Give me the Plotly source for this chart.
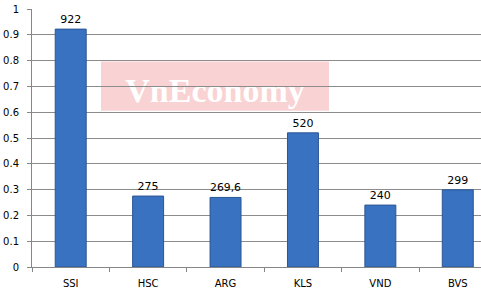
import plotly.graph_objects as go

categories = ["SSI", "HSC", "ARG", "KLS", "VND", "BVS"]
values = [0.922, 0.275, 0.2696, 0.520, 0.240, 0.299]
labels = ["922", "275", "269,6", "520", "240", "299"]
y_ticks = [0, 0.1, 0.2, 0.3, 0.4, 0.5, 0.6, 0.7, 0.8, 0.9, 1]
y_ticktext = ["0", "0.1", "0.2", "0.3", "0.4", "0.5", "0.6", "0.7", "0.8", "0.9", "1"]

fig = go.Figure()
fig.add_trace(go.Bar(
    x=categories, y=values, text=labels, textposition="outside",
    textfont=dict(family="DejaVu Sans", size=11, color="#000000"),
    marker=dict(color="#3a72c2", line=dict(color="#2a5694", width=1)),
    cliponaxis=False, width=0.4,
))

fig.add_shape(
    type="rect", xref="paper", yref="paper",
    x0=(101 - 32) / 449, x1=(329 - 32) / 449,
    y0=(267 - 111) / 257.5, y1=(267 - 62) / 257.5,
    fillcolor="#f9d2d4", line=dict(width=0), layer="below",
    label=dict(text="<b>VnEconomy</b>",
               font=dict(family="Liberation Serif", size=34, color="#ffffff"),
               textposition="middle center"),
)

fig.update_layout(
    width=481, height=292,
    margin=dict(l=32, r=0, t=9, b=25),
    paper_bgcolor="white", plot_bgcolor="white",
    showlegend=False,
    xaxis=dict(
        range=[-0.5, 5.3], showgrid=False, showline=True, linecolor="#868686",
        ticks="outside", ticklen=4, tickcolor="#868686", tickson="boundaries",
        ticklabelstandoff=7,
        tickfont=dict(family="DejaVu Sans", size=10, color="#000000"),
    ),
    yaxis=dict(
        range=[0, 1], tickvals=y_ticks, ticktext=y_ticktext,
        showgrid=True, gridcolor="#8c8c8c", gridwidth=1,
        showline=True, linecolor="#868686", zeroline=False,
        ticks="outside", ticklen=4, tickcolor="#868686",
        ticklabelstandoff=6,
        tickfont=dict(family="DejaVu Sans", size=10, color="#000000"),
    ),
)

fig.write_html("out.html")
